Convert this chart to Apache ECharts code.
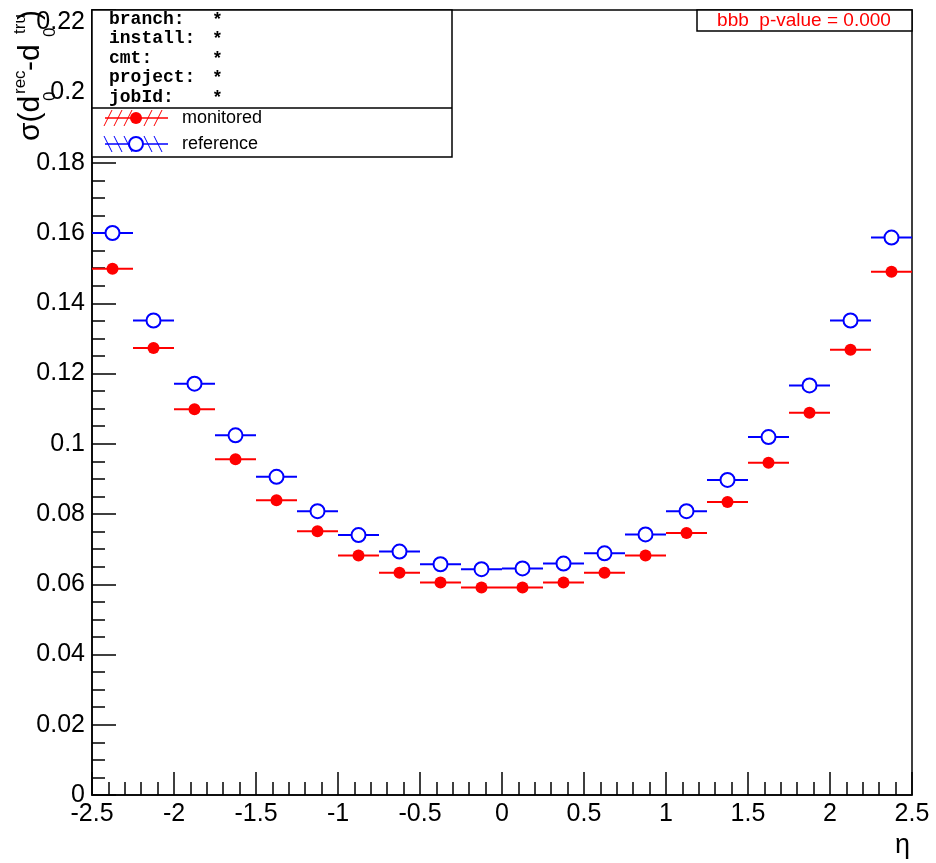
<!DOCTYPE html>
<html>
<head>
<meta charset="utf-8">
<title>sigma(d0) vs eta</title>
<script src="https://cdn.jsdelivr.net/npm/echarts@6/dist/echarts.min.js"></script>
<style>
  html, body { margin: 0; padding: 0; background: #fff; }
  #main { width: 936px; height: 863px; }
</style>
</head>
<body>
<div id="main"></div>
<script>
// ===== 数据 =====
// eta 分箱中心（箱宽 0.25）
const etaCenters = [-2.375, -2.125, -1.875, -1.625, -1.375, -1.125, -0.875, -0.625, -0.375, -0.125,
                    0.125, 0.375, 0.625, 0.875, 1.125, 1.375, 1.625, 1.875, 2.125, 2.375];
const binHalfWidth = 0.125;
const monitored = [0.1498, 0.1273, 0.1098, 0.0956, 0.0839, 0.0751, 0.0682, 0.0633, 0.0605, 0.0591,
                   0.0591, 0.0605, 0.0633, 0.0682, 0.0746, 0.0834, 0.0946, 0.1088, 0.1268, 0.1490];
const reference = [0.1600, 0.1351, 0.1171, 0.1024, 0.0906, 0.0808, 0.0740, 0.0693, 0.0657, 0.0643,
                   0.0645, 0.0659, 0.0688, 0.0742, 0.0808, 0.0897, 0.1019, 0.1166, 0.1351, 0.1587];
const infoLabels = ['branch:', 'install:', 'cmt:', 'project:', 'jobId:'];
const legendNames = ['monitored', 'reference'];
const pValueText = 'bbb  p-value = 0.000';

const SANS = '"Liberation Sans", Arial, Helvetica, sans-serif';
const MONO = '"Courier New", "Liberation Mono", monospace';

// 误差棒 + 标记点
function binRender(color, filled) {
  return (params, api) => {
    const x = api.value(0), y = api.value(1);
    const p0 = api.coord([x - binHalfWidth, y]);
    const p1 = api.coord([x + binHalfWidth, y]);
    const c = api.coord([x, y]);
    return {
      type: 'group',
      children: [
        { type: 'line', shape: { x1: p0[0], y1: p0[1], x2: p1[0], y2: p1[1] },
          style: { stroke: color, lineWidth: 2 } },
        { type: 'circle', shape: { cx: c[0], cy: c[1], r: filled ? 6 : 7 },
          style: { fill: filled ? color : '#fff', stroke: color, lineWidth: filled ? 0 : 2 } },
      ],
    };
  };
}

function yLabel(v) {
  const k = v / 0.02;
  if (Math.abs(k - Math.round(k)) > 1e-6) return '';
  return String(+v.toFixed(3));
}

// 图例里的斜线填充
function hatch(y, color, dir) {
  const out = [];
  for (let x = 108; x <= 164; x += 10) {
    if (Math.abs(x - 136) < 5) continue;
    out.push({ type: 'line', shape: dir > 0 ? { x1: x - 4, y1: y + 8, x2: x + 4, y2: y - 8 } : { x1: x - 4, y1: y - 8, x2: x + 4, y2: y + 8 },
      style: { stroke: color, lineWidth: 1 } });
  }
  return out;
}

const graphics = [];
// 信息/图例框
graphics.push({ type: 'rect', shape: { x: 92, y: 10, width: 360, height: 147 },
  style: { fill: '#fff', stroke: '#000', lineWidth: 1.5 }, z: 10 });
graphics.push({ type: 'line', shape: { x1: 92, y1: 108, x2: 452, y2: 108 },
  style: { stroke: '#000', lineWidth: 1.5 }, z: 11 });
infoLabels.forEach((t, i) => {
  const y = 19 + i * 19.5;
  graphics.push({ type: 'text', x: 109, y: y, z: 11,
    style: { text: t, font: 'bold 18px ' + MONO, fill: '#000', verticalAlign: 'middle' } });
  graphics.push({ type: 'text', x: 212, y: y + 1, z: 11,
    style: { text: '*', font: 'bold 18px ' + MONO, fill: '#000', verticalAlign: 'middle' } });
});
// monitored / reference 图例
[...hatch(118, '#ff0000', 1), ...hatch(144, '#0000ff', -1)].forEach(g => { g.z = 11; graphics.push(g); });
graphics.push({ type: 'line', shape: { x1: 105, y1: 118, x2: 168, y2: 118 }, style: { stroke: '#ff0000', lineWidth: 1.5 }, z: 11 });
graphics.push({ type: 'circle', shape: { cx: 136, cy: 118, r: 6 }, style: { fill: '#ff0000' }, z: 12 });
graphics.push({ type: 'line', shape: { x1: 105, y1: 144, x2: 168, y2: 144 }, style: { stroke: '#0000ff', lineWidth: 1.5 }, z: 11 });
graphics.push({ type: 'circle', shape: { cx: 136, cy: 144, r: 7 }, style: { fill: '#fff', stroke: '#0000ff', lineWidth: 2 }, z: 12 });
legendNames.forEach((t, i) => {
  graphics.push({ type: 'text', x: 182, y: 118 + i * 26, z: 11,
    style: { text: t, font: '18px ' + SANS, fill: '#000', verticalAlign: 'middle' } });
});
// p-value 框
graphics.push({ type: 'rect', shape: { x: 697, y: 10, width: 215, height: 21 },
  style: { fill: '#fff', stroke: '#000', lineWidth: 1.5 }, z: 10 });
graphics.push({ type: 'text', x: 804, y: 21, z: 11,
  style: { text: pValueText, font: '19px ' + SANS, fill: '#ff0000', align: 'center', verticalAlign: 'middle' } });
// x 轴标题
graphics.push({ type: 'text', x: 910, y: 846,
  style: { text: 'η', font: '27px ' + SANS, fill: '#000', align: 'right', verticalAlign: 'middle' } });
// y 轴标题 σ(d_0^rec - d_0^tru)，按 ROOT 的排版分段放置
const yTitleParts = [
  { t: 'σ(d', x: 31, y: 141, s: 30 },
  { t: 'rec', x: 20, y: 94, s: 17 },
  { t: '0', x: 50, y: 101, s: 17 },
  { t: '-d', x: 31, y: 71, s: 30 },
  { t: 'tru', x: 20, y: 34, s: 17 },
  { t: '0', x: 50, y: 37, s: 17 },
  { t: ')', x: 31, y: 20, s: 30 },
];
yTitleParts.forEach(p => {
  graphics.push({ type: 'text', x: p.x, y: p.y, rotation: Math.PI / 2,
    style: { text: p.t, font: p.s + 'px ' + SANS, fill: '#000', align: 'left', verticalAlign: 'middle' } });
});

const option = {
  animation: false,
  backgroundColor: '#fff',
  grid: { left: 92, right: 24, top: 10, bottom: 68, show: true, borderColor: '#000', borderWidth: 1.5 },
  xAxis: {
    type: 'value', min: -2.5, max: 2.5, interval: 0.5,
    axisLine: { show: true, onZero: false, lineStyle: { color: '#000', width: 1.5 } },
    axisTick: { inside: true, length: 23, lineStyle: { color: '#000', width: 1.5 } },
    minorTick: { show: true, splitNumber: 5, length: 13, lineStyle: { color: '#000', width: 1.5 } },
    axisLabel: { fontSize: 25, fontFamily: SANS, color: '#000', margin: 7, showMinLabel: true, showMaxLabel: true },
    splitLine: { show: false },
  },
  yAxis: [{
    type: 'value', min: 0, max: 0.2235, interval: 0.02,
    axisLine: { show: true, onZero: false, lineStyle: { color: '#000', width: 1.5 } },
    axisTick: { inside: true, length: 24, lineStyle: { color: '#000', width: 1.5 } },
    axisLabel: { fontSize: 25, fontFamily: SANS, color: '#000', margin: 7, formatter: yLabel },
    splitLine: { show: false },
  }, {
    // 次刻度
    type: 'value', min: 0, max: 0.2235, interval: 0.005, position: 'left',
    axisLine: { show: false, onZero: false },
    axisTick: { inside: true, length: 13, lineStyle: { color: '#000', width: 1.5 } },
    axisLabel: { show: false },
    splitLine: { show: false },
  }],
  graphic: graphics,
  series: [{
    name: 'reference', type: 'custom', renderItem: binRender('#0000ff', false),
    data: etaCenters.map((x, i) => [x, reference[i]]), z: 3,
  }, {
    name: 'monitored', type: 'custom', renderItem: binRender('#ff0000', true),
    data: etaCenters.map((x, i) => [x, monitored[i]]), z: 4,
  }],
};

const chart = echarts.init(document.getElementById('main'));
chart.setOption(option);
</script>
</body>
</html>
